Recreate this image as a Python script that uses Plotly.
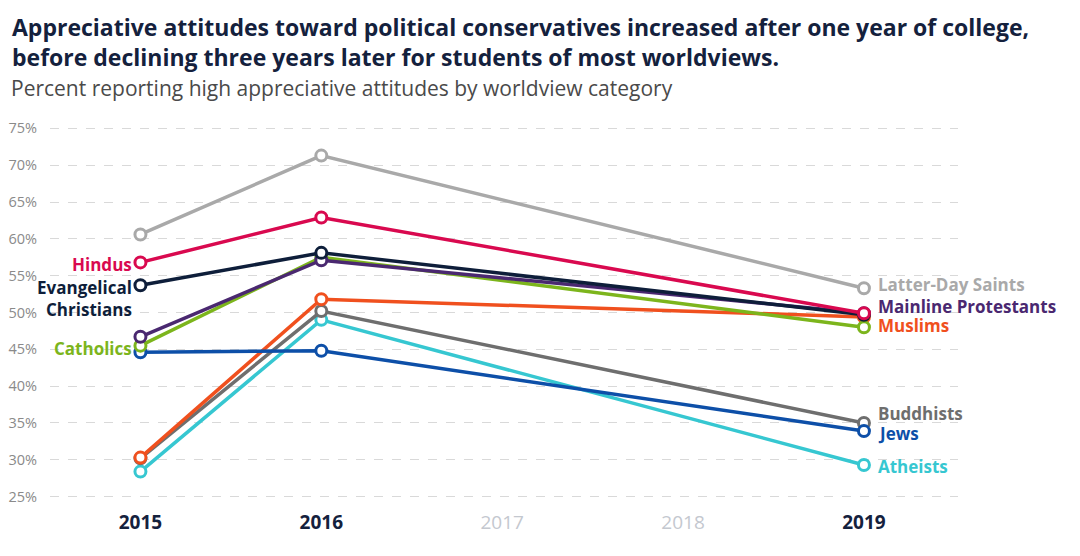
import plotly.graph_objects as go

years = [2015, 2016, 2019]

groups = ["Latter-Day Saints", "Hindus", "Evangelical Christians", "Mainline Protestants",
          "Catholics", "Jews", "Muslims", "Buddhists", "Atheists"]

lds = [60.6, 71.3, 53.3]
hindus = [56.8, 62.9, 49.9]
evangelical = [53.7, 58.1, 49.7]
mainline = [46.7, 57.1, 49.9]
catholics = [45.5, 57.5, 48.0]
jews = [44.6, 44.8, 33.9]
muslims = [30.3, 51.8, 49.4]
buddhists = [30.2, 50.2, 35.0]
atheists = [28.4, 49.0, 29.3]

colors = ["#a9a9a9", "#d9094f", "#0e1e3a", "#4a2870", "#7cb51c",
          "#0d4fa8", "#f0501e", "#6e6e6e", "#36c7d1"]

year_ticks = [2015, 2016, 2017, 2018, 2019]
year_labels = ["2015", "2016", "2017", "2018", "2019"]
faded_years = [2017, 2018]

pct_ticks = [25, 30, 35, 40, 45, 50, 55, 60, 65, 70, 75]
pct_labels = ["25%", "30%", "35%", "40%", "45%", "50%", "55%", "60%", "65%", "70%", "75%"]

series = [lds, hindus, evangelical, mainline, catholics, jews, muslims, buddhists, atheists]

fig = go.Figure()

# draw back to front so the top lines sit on top like the original
for name, vals, col in reversed(list(zip(groups, series, colors))):
    fig.add_trace(go.Scatter(
        x=years, y=vals, name=name, mode="lines+markers",
        line=dict(color=col, width=3.5),
        marker=dict(symbol="circle", size=11, color="white", line=dict(color=col, width=3)),
        showlegend=False, cliponaxis=False))

# labels: (group index, year, text, pixel shift y, side)
labels = [
    (1, 2015, "Hindus", -2, "left"),
    (2, 2015, "Evangelical<br>Christians", -13, "left"),
    (4, 2015, "Catholics", -3, "left"),
    (0, 2019, "Latter-Day Saints", 4, "right"),
    (3, 2019, "Mainline Protestants", 7, "right"),
    (6, 2019, "Muslims", -9, "right"),
    (7, 2019, "Buddhists", 9, "right"),
    (5, 2019, "Jews", -2, "right"),
    (8, 2019, "Atheists", -2, "right"),
]
for gi, yr, txt, ys, side in labels:
    val = series[gi][years.index(yr)]
    fig.add_annotation(
        x=yr, y=val, xref="x", yref="y", text="<b>%s</b>" % txt, showarrow=False,
        xanchor="right" if side == "left" else "left",
        align="right" if side == "left" else "left",
        xshift=-7 if side == "left" else 13, yshift=ys, borderpad=0,
        font=dict(family="Open Sans", size=17, color=colors[gi]))

# the page body adds an 8px margin, so everything below is laid out 8px up/left
title_lines = [
    "Appreciative attitudes toward political conservatives increased after one year of college,",
    "before declining three years later for students of most worldviews.",
]
for i, line in enumerate(title_lines):
    fig.add_annotation(
        text="<b>%s</b>" % line, xref="paper", yref="paper",
        x=-0.044, y=(496 - (19 + 30 * i)) / 383, xanchor="left", yanchor="middle",
        showarrow=False, font=dict(family="Open Sans", size=23, color="#14213d"))

fig.add_annotation(
    text="Percent reporting high appreciative attitudes by worldview category",
    xref="paper", yref="paper", x=-0.045, y=(496 - 80) / 383, xanchor="left", yanchor="middle",
    showarrow=False, font=dict(family="Open Sans", size=21, color="#4a4a4a"))

tick_text = []
for yr, lab in zip(year_ticks, year_labels):
    if yr in faded_years:
        tick_text.append("<span style='color:#c4c8cf'>%s</span>" % lab)
    else:
        tick_text.append("<span style='color:#14213d'><b>%s</b></span>" % lab)

fig.update_layout(
    width=1072, height=548,
    paper_bgcolor="white", plot_bgcolor="white",
    margin=dict(l=42, r=122, t=113, b=52),
    font=dict(family="Open Sans"),
    xaxis=dict(range=[2014.5, 2019.52], tickvals=year_ticks, ticktext=tick_text,
               showgrid=False, zeroline=False, showline=False, ticks="", automargin=False,
               ticklabelstandoff=5, tickfont=dict(size=19, color="#14213d")),
    yaxis=dict(range=[24, 76], tickvals=pct_ticks, ticktext=pct_labels,
               showgrid=True, gridcolor="#d9d9d9", griddash="dash", automargin=False,
               gridwidth=1, zeroline=False, showline=False, ticks="",
               ticklabelstandoff=12, tickfont=dict(size=14.5, color="#8a8a8a")),
)

fig.write_html("out.html")
